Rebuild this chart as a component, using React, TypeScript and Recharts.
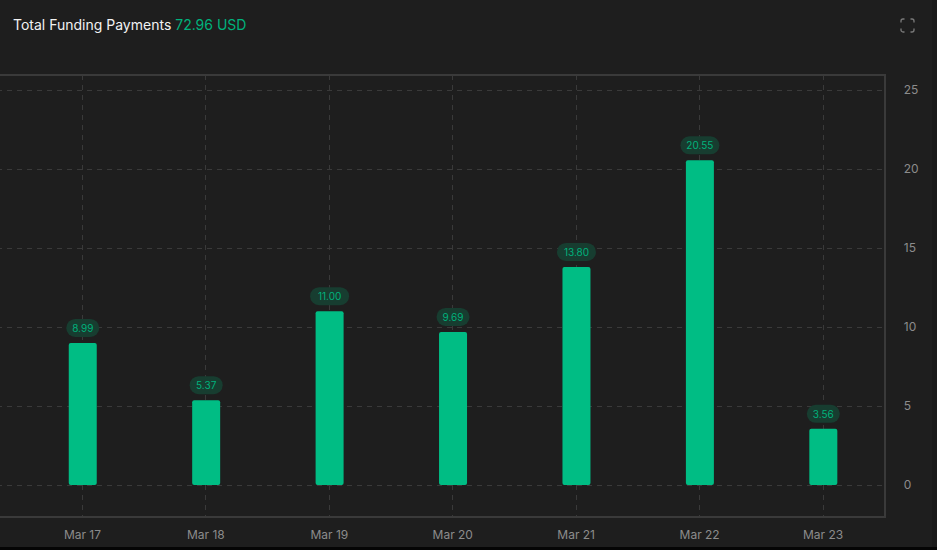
import { Bar, BarChart, CartesianGrid, LabelList, XAxis, YAxis } from "recharts";

const days = ["Mar 17", "Mar 18", "Mar 19", "Mar 20", "Mar 21", "Mar 22", "Mar 23"];
const payments = [8.99, 5.37, 11.0, 9.69, 13.8, 20.55, 3.56];
const yTicks = [0, 5, 10, 15, 20, 25];

const rows = days.map((day, i) => ({ day, payment: payments[i] }));

const GREEN = "#00bd84";
const LINE = "#3a3a3a";

const font = "Inter, sans-serif";

function Pill(props: any) {
  const { x, y, width, value } = props;
  const text = Number(value).toFixed(2);
  const w = text.length > 4 ? 39 : 33;
  const cx = x + width / 2;
  return (
    <g>
      <rect x={cx - w / 2} y={y - 24} width={w} height={18} rx={9} fill="#173d30" />
      <text
        x={cx}
        y={y - 15}
        textAnchor="middle"
        dominantBaseline="central"
        fontSize={10}
        fontFamily={font}
        fill="#00b27c"
      >
        {text}
      </text>
    </g>
  );
}

export default function App() {
  return (
    <div
      style={{
        position: "fixed",
        left: 0,
        top: 0,
        width: 937,
        height: 550,
        overflow: "hidden",
        background: "#1e1e1e",
        fontFamily: font,
      }}
    >
      <div style={{ position: "absolute", left: 13, top: 16, fontSize: 14, lineHeight: "18px", color: "#f2f2f2" }}>
        Total Funding Payments <span style={{ color: "#00b27c" }}>72.96 USD</span>
      </div>

      <svg
        style={{ position: "absolute", left: 900, top: 18 }}
        width={15}
        height={15}
        viewBox="0 0 15 15"
        fill="none"
        stroke="#7a7a7a"
        strokeWidth={1.3}
      >
        <path d="M1 4.5V3a2 2 0 0 1 2-2h1.5M10.5 1H12a2 2 0 0 1 2 2v1.5M14 10.5V12a2 2 0 0 1-2 2h-1.5M4.5 14H3a2 2 0 0 1-2-2v-1.5" />
      </svg>

      <div style={{ position: "absolute", left: -110, top: 0 }}>
        <BarChart
          width={1047}
          height={550}
          data={rows}
          margin={{ top: 75, right: 0, bottom: 0, left: 7.25 }}
        >
          <CartesianGrid stroke={LINE} strokeDasharray="5 5" syncWithTicks shapeRendering="crispEdges" />
          <XAxis
            dataKey="day"
            padding={{ left: 123.5, right: 0 }}
            axisLine={false}
            tickLine={false}
            height={34}
            tickMargin={8}
            tick={{ fill: "#8c8c8c", fontSize: 12, fontFamily: font }}
          />
          <YAxis
            orientation="right"
            domain={[-1.96, 25.95]}
            ticks={yTicks}
            allowDataOverflow
            axisLine={false}
            tickLine={false}
            width={52.25}
            tickMargin={19}
            dx={-6}
            tick={{ fill: "#8c8c8c", fontSize: 12, fontFamily: font }}
          />
          <Bar dataKey="payment" fill={GREEN} barSize={28} radius={2} isAnimationActive={false}>
            <LabelList dataKey="payment" content={Pill} />
          </Bar>
        </BarChart>
      </div>

      <div
        style={{
          position: "absolute",
          left: -10,
          top: 74,
          width: 892,
          height: 439.5,
          border: `2px solid ${LINE}`,
          pointerEvents: "none",
        }}
      />

      <div style={{ position: "absolute", left: 932, top: 0, width: 5, height: 550, background: "#1a1a1a" }} />
      <div style={{ position: "absolute", left: 0, top: 547, width: 937, height: 3, background: "#050505" }} />
    </div>
  );
}
